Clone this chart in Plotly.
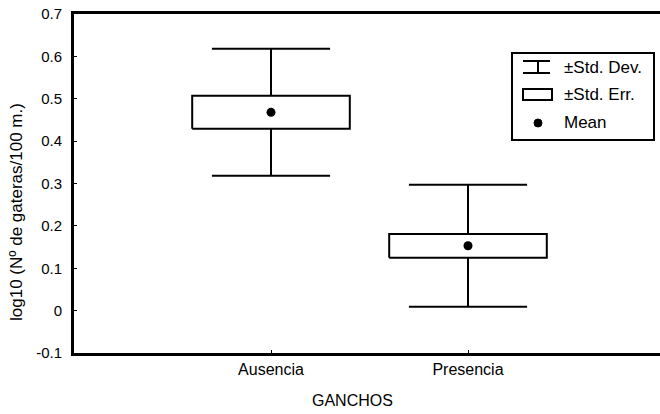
import plotly.graph_objects as go

categories = ["Ausencia", "Presencia"]
cat_pos = [1, 2]
means = [0.468, 0.153]
std_err = [0.039, 0.028]
std_dev = [0.150, 0.144]

y_tickvals = [-0.1, 0, 0.1, 0.2, 0.3, 0.4, 0.5, 0.6, 0.7]
y_ticktext = ["-0.1", "0", "0.1", "0.2", "0.3", "0.4", "0.5", "0.6", "0.7"]

legend_labels = ["\u00b1Std. Dev.", "\u00b1Std. Err.", "Mean"]

FONT = "Liberation Sans, Arial, sans-serif"
W, H = 660, 414
L, R, T, B = 74, 0, 14, 61
PW, PH = W - L - R, H - T - B
BOX_HW = 0.4
CAP_HW = 0.3

fig = go.Figure()

for c, m, se, sd in zip(cat_pos, means, std_err, std_dev):
    xs = [c - CAP_HW, c + CAP_HW, None, c, c, None, c, c, None, c - CAP_HW, c + CAP_HW]
    ys = [m + sd, m + sd, None, m + sd, m + se, None, m - se, m - sd, None, m - sd, m - sd]
    fig.add_trace(go.Scatter(x=xs, y=ys, mode="lines", line=dict(color="black", width=2),
                             showlegend=False, hoverinfo="skip"))
    fig.add_trace(go.Scatter(x=[c - BOX_HW, c + BOX_HW, c + BOX_HW, c - BOX_HW, c - BOX_HW],
                             y=[m - se, m - se, m + se, m + se, m - se],
                             mode="lines", fill="toself", fillcolor="white",
                             line=dict(color="black", width=2), showlegend=False, hoverinfo="skip"))

fig.add_trace(go.Scatter(x=cat_pos, y=means, mode="markers",
                         marker=dict(color="black", size=9), showlegend=False))

# helpers: screen pixel -> paper coordinates
def px(x):
    return (x - L) / PW

def py(y):
    return (H - B - y) / PH

shapes = []
shapes.append(dict(type="rect", xref="paper", yref="paper", x0=px(512), x1=px(654), y0=py(140), y1=py(53),
                   line=dict(color="black", width=2), fillcolor="white", layer="above"))
for yy in (61, 73):
    shapes.append(dict(type="line", xref="paper", yref="paper", x0=px(523), x1=px(550), y0=py(yy), y1=py(yy),
                       line=dict(color="black", width=2)))
shapes.append(dict(type="line", xref="paper", yref="paper", x0=px(538), x1=px(538), y0=py(61), y1=py(73),
                   line=dict(color="black", width=2)))
shapes.append(dict(type="rect", xref="paper", yref="paper", x0=px(523), x1=px(552), y0=py(100), y1=py(89),
                   line=dict(color="black", width=2)))
shapes.append(dict(type="circle", xref="paper", yref="paper", x0=px(534), x1=px(542), y0=py(127), y1=py(119),
                   line=dict(color="black", width=1), fillcolor="black"))

annotations = []
for lbl, yy in zip(legend_labels, (67, 94, 122)):
    annotations.append(dict(text=lbl, xref="paper", yref="paper", x=px(562), y=py(yy),
                            xanchor="left", yanchor="middle", showarrow=False,
                            font=dict(family=FONT, size=17, color="black")))
annotations.append(dict(text="log10 (N\u00ba de gateras/100 m.)", xref="paper", yref="paper",
                        x=px(16), y=py(212), textangle=-90, showarrow=False,
                        xanchor="center", yanchor="middle",
                        font=dict(family=FONT, size=17, color="black")))
annotations.append(dict(text="GANCHOS", xref="paper", yref="paper", x=px(352), y=py(400),
                        xanchor="center", yanchor="middle", showarrow=False,
                        font=dict(family=FONT, size=16, color="black")))

fig.update_layout(
    width=W, height=H,
    margin=dict(l=L, r=R, t=T, b=B, autoexpand=False),
    paper_bgcolor="white", plot_bgcolor="white",
    shapes=shapes, annotations=annotations,
    showlegend=False,
    font=dict(family=FONT, color="black"),
    xaxis=dict(range=[0, PW / 197], tickvals=cat_pos, ticktext=categories,
               showline=True, mirror=True, linecolor="black", linewidth=3,
               showgrid=False, zeroline=False, ticks="inside", ticklen=3, tickcolor="black",
               automargin=False,
               tickfont=dict(family=FONT, size=16, color="black"), fixedrange=True),
    yaxis=dict(range=[-0.1, 0.7], tickvals=y_tickvals, ticktext=y_ticktext,
               showline=True, mirror=False, linecolor="black", linewidth=3,
               showgrid=False, zeroline=False, ticks="inside", ticklen=3, tickcolor="black",
               ticklabelstandoff=6, automargin=False,
               tickfont=dict(family=FONT, size=15, color="black"), fixedrange=True),
)

fig.write_html("out.html", config={"displayModeBar": False},
               post_script="document.body.style.margin='0';document.body.style.overflow='hidden';")
